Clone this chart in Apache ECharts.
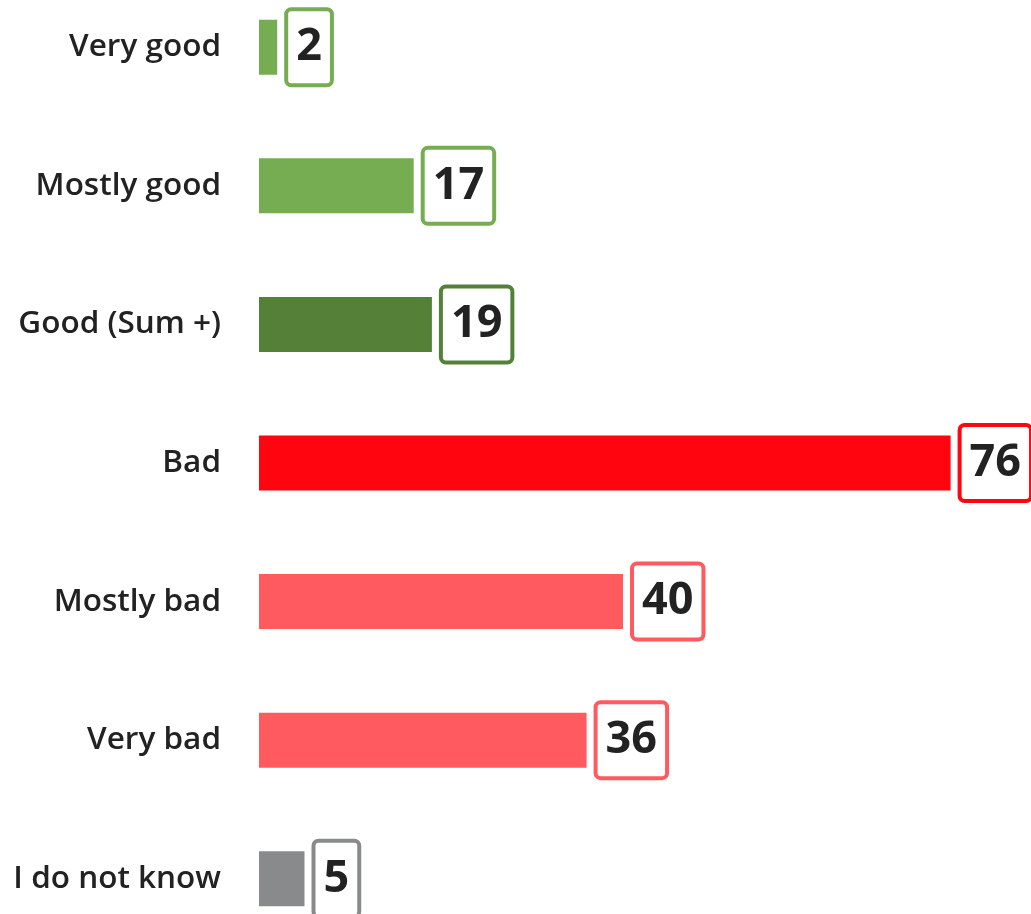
<!DOCTYPE html>
<html>
<head>
<meta charset="utf-8">
<style>
  html, body { margin: 0; padding: 0; background: #fff; overflow: hidden; }
  /* rows in the source run past the picture's edges, so the canvas is shifted up */
  #chart { position: absolute; left: 0; top: -22px; width: 1031px; height: 970px; }
</style>
<script src="https://cdn.jsdelivr.net/npm/echarts@6/dist/echarts.min.js"></script>
</head>
<body>
<div id="chart"></div>
<script>
const categories = ['Very good', 'Mostly good', 'Good (Sum +)', 'Bad', 'Mostly bad', 'Very bad', 'I do not know']
const values = [2, 17, 19, 76, 40, 36, 5]
const colors = ['#77ad52', '#77ad52', '#548038', '#ff0510', '#ff5a5f', '#ff5a5f', '#888a8c']

const chart = echarts.init(document.getElementById('chart'))

chart.setOption({
  animation: false,
  grid: {
    left: 259,
    right: 44,
    top: 0,
    bottom: 0
  },
  xAxis: {
    type: 'value',
    min: 0,
    max: 80,
    show: false
  },
  yAxis: {
    type: 'category',
    data: categories,
    inverse: true,
    axisLine: { show: false },
    axisTick: { show: false },
    splitLine: { show: false },
    axisLabel: {
      margin: 38,
      color: '#222',
      fontSize: 31.5,
      fontWeight: 600,
      fontFamily: 'Open Sans'
    }
  },
  series: [
    {
      type: 'bar',
      barWidth: 55,
      data: values.map((v, i) => ({
        value: v,
        itemStyle: { color: colors[i] },
        label: { borderColor: colors[i] }
      })),
      label: {
        show: true,
        position: 'right',
        distance: 11,
        color: '#222',
        fontSize: 45,
        fontWeight: 'bold',
        fontFamily: 'Open Sans',
        lineHeight: 54,
        padding: [9, 8, 9, 8],
        borderWidth: 4,
        borderRadius: 3,
        backgroundColor: '#fff'
      }
    }
  ]
})
</script>
</body>
</html>
